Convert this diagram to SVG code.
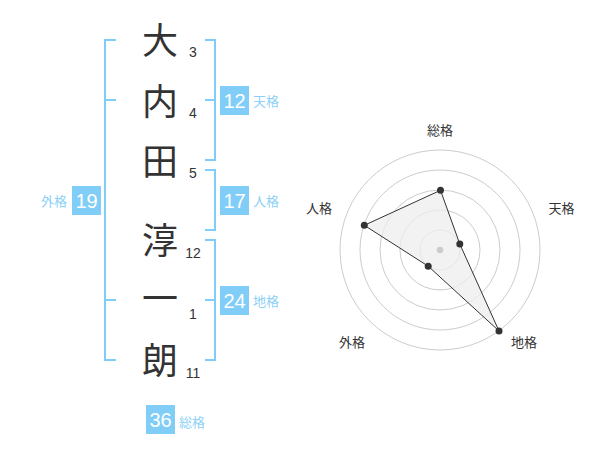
<svg xmlns="http://www.w3.org/2000/svg" width="600" height="470" viewBox="0 0 600 470">
<style>
.ch{font-family:"Noto Sans CJK JP","Noto Sans",sans-serif;font-size:36px;fill:#333;text-anchor:middle}
.st{font-family:"Liberation Sans",Arial,sans-serif;font-size:14px;fill:#333;text-anchor:middle}
.box{fill:#80cdf8}
.bn{font-family:"Liberation Sans",Arial,sans-serif;font-size:20px;fill:#fff;text-anchor:middle}
.bl{font-family:"Noto Sans CJK JP",sans-serif;font-size:13px;fill:#8dd0f6}
.br{fill:none;stroke:#80cdf8;stroke-width:2}
.ring{fill:none;stroke:#cccccc;stroke-width:1}
.rl{font-family:"Noto Sans CJK JP",sans-serif;font-size:13px;fill:#333;text-anchor:middle}
.pt{fill:#333}
</style>
<rect width="600" height="470" fill="#fff"/>
<g id="connectors">
<path class="br" d="M116,40 H105 V360 H116 M105,100 H116 M105,300 H116"/>
<path class="br" d="M205,40 H215 V160 H205 M205,100 H215"/>
<path class="br" d="M205,170 H215 V230 H205"/>
<path class="br" d="M205,240 H215 V360 H205 M205,300 H215"/>
</g>
<g id="chars">
<g id="c1"><text class="ch" x="160" y="54">大</text><text class="st" x="193" y="57">3</text></g>
<g id="c2"><text class="ch" x="160" y="115">内</text><text class="st" x="193" y="118">4</text></g>
<g id="c3"><text class="ch" x="160" y="175">田</text><text class="st" x="193" y="178">5</text></g>
<g id="c4"><text class="ch" x="160" y="254">淳</text><text class="st" x="193" y="258">12</text></g>
<g id="c5"><text class="ch" x="160" y="312">一</text><text class="st" x="193" y="319">1</text></g>
<g id="c6"><text class="ch" x="160" y="374">朗</text><text class="st" x="193" y="378">11</text></g>
</g>
<g id="tenkaku"><rect class="box" x="220" y="86" width="29" height="29"/><text class="bn" x="234.5" y="107.5">12</text><text class="bl" x="253" y="105.5">天格</text></g>
<g id="jinkaku"><rect class="box" x="220" y="186" width="29" height="29"/><text class="bn" x="234.5" y="207.5">17</text><text class="bl" x="253" y="205.5">人格</text></g>
<g id="chikaku"><rect class="box" x="220" y="286" width="29" height="29"/><text class="bn" x="234.5" y="307.5">24</text><text class="bl" x="253" y="305.5">地格</text></g>
<g id="gaikaku"><rect class="box" x="72" y="186" width="29" height="29"/><text class="bn" x="86.5" y="207.5">19</text><text class="bl" x="67" y="205.5" text-anchor="end">外格</text></g>
<g id="soukaku"><rect class="box" x="146" y="405" width="29" height="29"/><text class="bn" x="160.5" y="426.5">36</text><text class="bl" x="179" y="427">総格</text></g>
<g id="radar">
<circle class="ring" cx="440" cy="250" r="20"/>
<circle class="ring" cx="440" cy="250" r="40"/>
<circle class="ring" cx="440" cy="250" r="60"/>
<circle class="ring" cx="440" cy="250" r="80"/>
<circle class="ring" cx="440" cy="250" r="100"/>
<polygon points="440.5,190.3 459.8,244 499,331 428.2,266.2 364.3,225.3" fill="#eeeeee" fill-opacity="0.75" stroke="#333" stroke-width="1"/>
<circle cx="440" cy="250" r="3.3" fill="#cccccc"/>
<circle class="pt" cx="440.5" cy="190.3" r="3.5"/>
<circle class="pt" cx="459.8" cy="244" r="3.5"/>
<circle class="pt" cx="499" cy="331" r="3.5"/>
<circle class="pt" cx="428.2" cy="266.2" r="3.5"/>
<circle class="pt" cx="364.3" cy="225.3" r="3.5"/>
<text class="rl" x="440" y="135">総格</text>
<text class="rl" x="561.5" y="213">天格</text>
<text class="rl" x="319" y="213">人格</text>
<text class="rl" x="352" y="347">外格</text>
<text class="rl" x="524" y="347">地格</text>
</g>
</svg>
